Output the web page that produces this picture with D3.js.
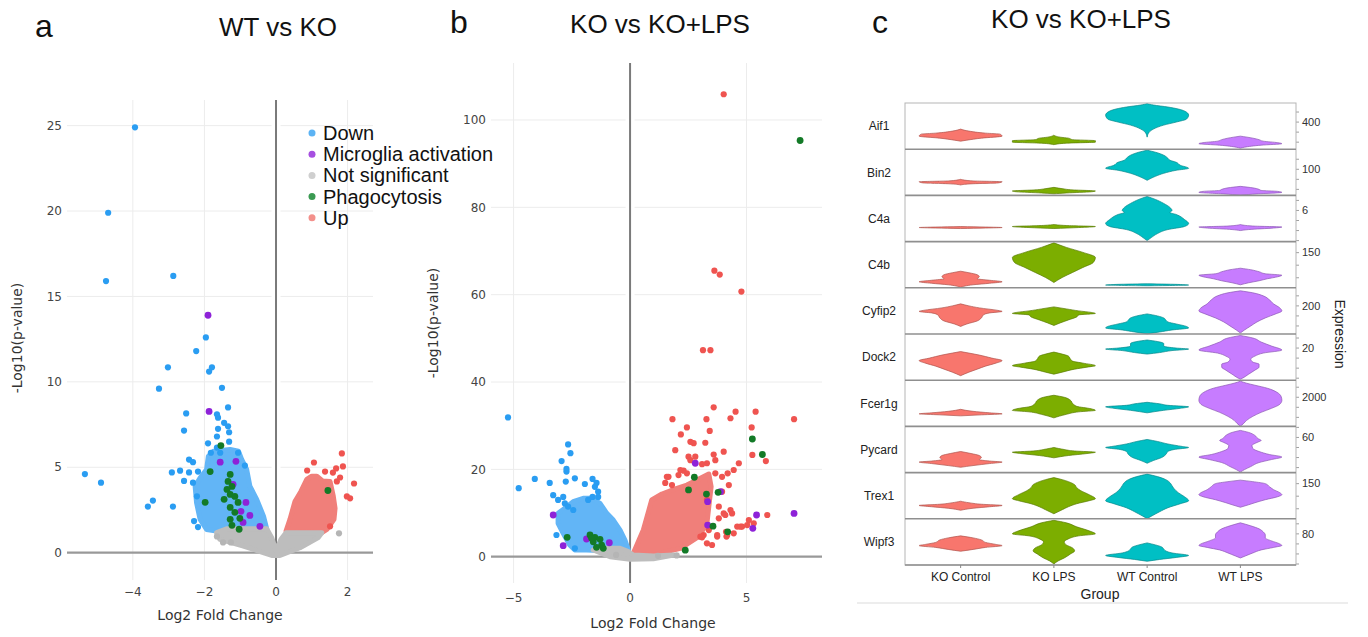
<!DOCTYPE html>
<html lang="en">
<head>
<meta charset="utf-8">
<title>Volcano plots and violin panel</title>
<script src="https://cdn.jsdelivr.net/npm/d3@7"></script>
<style>
  body { margin: 0; background: #fff; }
  .sans { font-family: "Liberation Sans", Arial, sans-serif; }
  .tick { font-family: "DejaVu Sans", Verdana, sans-serif; font-size: 12px; fill: #444; }
</style>
</head>
<body>
<svg id="fig" width="1368" height="637"></svg>
<script>
// ---- volcano data: [log2 fold change, -log10 p] ----
var categories = ["Down", "Microglia activation", "Not significant", "Phagocytosis", "Up"];
var pointColors = ["#2a9df2", "#8e22d8", "#b5b5b5", "#137a27", "#ef5450"];
var legendColors = ["#5cb3f4", "#a64fe0", "#cfcfcf", "#3b9a52", "#f3908b"];
var cloudDownColor = "#62b5f6", cloudUpColor = "#f07f7a", cloudNsColor = "#bdbdbd";

// panel a: WT vs KO
var aDown = [[-3.94,24.9],[-4.69,19.9],[-4.75,15.9],[-2.87,16.2],[-1.96,12.6],[-2.23,11.8],[-3.02,10.85],
  [-1.79,10.85],[-1.87,10.6],[-3.27,9.6],[-1.51,9.65],[-1.34,8.5],[-2.51,8.15],[-1.65,8.1],[-1.62,7.9],
  [-1.45,7.6],[-1.34,7.4],[-1.31,7.05],[-2.57,7.15],[-1.62,7.25],[-1.65,6.8],[-1.31,6.5],[-1.9,6.4],
  [-1.65,6.15],[-1.82,5.85],[-1.56,5.85],[-1.06,5.85],[-2.43,5.45],[-2.32,5.3],[-2.18,4.75],[-0.87,5.1],
  [-2.68,4.8],[-2.91,4.7],[-2.43,4.7],[-2.57,4.2],[-2.32,4.1],[-2.21,3.3],[-5.34,4.6],[-4.89,4.1],
  [-3.44,3.05],[-3.58,2.7],[-2.88,2.7],[-2.29,1.85],[-2.18,1.5]];
var aMicroglia = [[-1.9,13.9],[-1.87,8.27],[-1.56,5.3],[-1.12,5.35],[-1.2,4.0],[-0.84,2.94],[-0.98,2.42],
  [-0.73,2.18],[-0.92,1.77],[-0.45,1.54]];
var aNotSig = [[-1.65,0.95],[-1.48,0.6],[-1.26,0.6],[1.76,1.13]];
var aPhago = [[-1.54,6.27],[-1.84,4.75],[-1.98,2.95],[-1.28,4.58],[-1.34,4.17],[-1.23,3.88],[-1.37,3.7],
  [-1.28,3.41],[-1.15,3.29],[-1.45,3.12],[-1.06,2.94],[-1.28,2.65],[-1.15,2.36],[-1.28,1.95],[-1.01,2.01],
  [-1.23,1.6],[-1.03,1.37],[1.45,3.64]];
var aUp = [[1.84,5.81],[1.06,5.28],[1.37,4.75],[0.87,4.81],[1.59,4.69],[1.87,5.05],[1.68,4.93],[2.18,4.05],
  [1.98,3.29],[2.07,3.18],[1.51,1.54],[1.70,4.17],[1.79,4.4]];
// outlines of the dense point clouds (too many genes to read one by one)
var aDownCloud = [[-2.12,4.39],[-1.94,4.87],[-1.89,5.65],[-1.75,5.94],[-1.28,6.04],[-1.05,5.94],[-0.96,5.46],
  [-0.82,4.87],[-0.73,3.89],[-0.54,3.12],[-0.35,2.14],[-0.26,1.4],[-1.38,1.4],[-1.66,1.26],[-1.94,1.36],
  [-2.12,1.95],[-2.22,2.92],[-2.26,3.89]];
var aUpCloud = [[0.28,1.26],[0.39,1.95],[0.53,3.0],[0.7,3.6],[0.86,4.29],[1.0,4.48],[1.14,4.48],[1.3,4.2],
  [1.51,4.17],[1.6,3.31],[1.65,2.6],[1.62,1.95],[1.42,1.36],[1.28,1.17]];
var aNsCloud = [[-1.66,1.17],[-1.38,1.4],[-0.26,1.4],[-0.12,0.88],[0,0.1],[0.14,0.78],[0.28,1.17],[1.28,1.17],
  [1.18,0.88],[0.67,0.29],[0.11,-0.16],[-0.12,-0.16],[-0.91,0.39],[-1.57,0.78]];

// panel b: KO vs KO+LPS
var bDown = [[-5.24,31.9],[-4.78,15.7],[-4.09,17.8],[-3.45,16.9],[-2.73,20.1],[-2.76,17.2],[-2.37,17.95],
  [-1.94,16.65],[-1.61,17.8],[-2.66,25.7],[-2.56,23.7],[-2.94,21.9],[-2.73,19.5],[-1.44,16.9],[-1.37,14.9],
  [-3.3,14.1],[-3.09,13.0],[-2.87,13.7],[-2.8,12.2],[-2.66,11.45],[-2.44,10.7],[-3.16,4.97],[-2.37,1.92],
  [-1.51,16.0],[-1.61,13.7],[-1.37,13.7],[-1.8,13.0]];
var bMicroglia = [[-3.3,9.55],[-2.87,2.52],[-1.87,4.05],[-0.89,3.2],[2.8,21.4],[3.33,12.6],[5.43,9.55],
  [5.27,6.5],[7.04,9.9],[3.88,14.9],[3.33,7.25]];
var bNotSig = [[-0.6,0.4],[1.2,0.2],[2.0,0.3]];
var bPhago = [[7.3,95.3],[-2.7,4.44],[-1.72,4.97],[-1.51,4.44],[-1.29,3.98],[-1.58,3.43],[-1.22,2.67],
  [-1.44,2.15],[-1.15,1.92],[-1.65,4.21],[5.25,26.95],[5.68,23.4],[2.76,18.2],[3.28,14.35],[3.78,14.75],
  [3.56,7.0],[4.19,5.7],[2.51,15.3],[2.37,1.5]];
var bUp = [[4.02,105.9],[3.62,65.5],[3.85,64.6],[4.78,60.7],[3.13,47.3],[3.45,47.3],[1.82,31.5],[2.44,29.6],
  [2.18,28.0],[1.94,24.4],[2.59,26.3],[2.73,26.0],[3.23,26.1],[3.28,31.5],[3.42,28.8],[3.59,34.2],
  [4.31,31.7],[4.53,33.2],[5.39,33.2],[5.22,29.6],[7.04,31.5],[5.25,23.3],[5.83,21.9],[4.02,24.05],
  [3.59,23.4],[3.3,21.4],[3.09,21.2],[4.67,21.4],[4.45,19.85],[4.19,19.1],[3.95,18.3],[2.51,22.9],
  [2.3,19.7],[2.44,19.1],[1.58,18.3],[1.51,16.9],[4.02,9.9],[4.38,9.9],[5.1,8.4],[4.81,6.9],[4.6,6.9],
  [4.12,5.7],[3.74,4.6],[4.14,4.6],[5.89,9.55],[3.52,2.68],[3.16,4.97],[3.09,4.44],[3.95,14.9],[4.24,16.4],
  [4.31,10.7],[3.66,22.1],[3.66,19.1],[2.59,22.1],[2.8,22.9],[2.16,19.85],[2.08,18.7],[1.65,18.3],
  [1.8,16.4],[3.3,13],[3.81,11.45],[4.09,9.55],[3.81,8.8],[5.31,7.65],[5.03,7.25],[4.74,6.87],[4.45,5.36],
  [4.17,4.97],[3.74,4.97],[3.38,6.11],[3.02,4.58],[3.3,3.06]];
var bDownCloud = [[-3.09,9.94],[-2.8,11.08],[-2.44,12.6],[-2.01,13.37],[-1.65,13.37],[-1.29,12.23],[-1.0,9.94],
  [-0.72,8.4],[-0.43,6.11],[-0.22,3.82],[-0.07,1.53],[-1.0,1.37],[-1.87,1.53],[-2.37,1.53],[-2.59,2.68],
  [-2.87,5.36],[-3.09,7.65]];
var bUpCloud = [[0.14,0.78],[0.57,6.11],[0.93,12.98],[1.37,14.36],[2.01,15.66],[2.44,16.42],[3.02,17.95],
  [3.38,18.94],[3.48,16.03],[3.38,11.45],[3.3,7.65],[2.94,4.58],[2.16,1.92],[1.0,0.38]];
var bNsCloud = [[-1.58,1.53],[-1.0,1.92],[-0.43,1.92],[-0.07,1.15],[0.14,0.38],[1.0,0.16],[1.87,0.38],
  [1.0,-0.46],[0,-0.6],[-0.86,0]];

// ---- violin data: per gene, one profile per group, [expression, relative density] ----
var genes = ["Aif1", "Bin2", "C4a", "C4b", "Cyfip2", "Dock2", "Fcer1g", "Pycard", "Trex1", "Wipf3"];
var groups = ["KO Control", "KO LPS", "WT Control", "WT LPS"];
var groupColors = ["#f8766d", "#7cae00", "#00bfc4", "#c77cff"];
var geneTicks = [400, 100, 6, 150, 200, 20, 2000, 60, 150, 80];
var geneDomains = [[130,590],[35,150],[2.9,7.5],[10,194],[60,290],[4,27],[550,2850],[25,71],[80,172],[49,95]];
var minorSteps = [100, 25, 1, 50, 50, 5, 500, 10, 25, 10];

var vAif1 = [
  [[330,0],[310,0.2],[290,0.6],[280,0.95],[260,1],[240,0.5],[220,0.15],[210,0]],
  [[270,0],[250,0.15],[240,0.35],[225,0.45],[215,1],[200,1],[190,0.3],[175,0]],
  [[585,0],[570,0.15],[550,0.5],[510,0.9],[470,1],[430,0.95],[400,0.7],[370,0.4],[330,0.15],[300,0.05],[250,0]],
  [[260,0],[240,0.3],[225,0.45],[210,0.55],[195,0.9],[185,1],[170,0.5],[150,0.1],[140,0]]];
var vBin2 = [
  [[75,0],[71,0.3],[69,1],[66,0.9],[64,0.3],[61,0]],
  [[55,0],[51,0.25],[49,0.4],[46,1],[44,0.9],[41,0.3],[39,0]],
  [[147.5,0],[142.5,0.2],[135,0.4],[127.5,0.5],[122.5,0.55],[117.5,0.7],[110,0.8],[102.5,1],[97.5,0.7],[90,0.4],[82.5,0.2],[72.5,0]],
  [[57.5,0],[53.75,0.3],[50,0.45],[47.5,0.5],[45,0.9],[42.5,1],[38.75,0.4],[35.5,0]]];
var vC4a = [
  [[4.4,0],[4.35,0.6],[4.3,1],[4.25,0.6],[4.2,0]],
  [[4.6,0],[4.5,0.3],[4.4,1],[4.3,0.6],[4.2,0]],
  [[7.4,0],[7.1,0.2],[6.7,0.4],[6.3,0.55],[6.0,0.6],[5.8,0.55],[5.6,0.7],[5.1,0.9],[4.7,1],[4.4,0.9],[4.1,0.5],[3.7,0.25],[3.3,0.1],[3.0,0]],
  [[4.6,0],[4.45,0.3],[4.35,1],[4.25,0.8],[4.1,0.2],[4.0,0]]];
var vC4b = [
  [[76,0],[70,0.2],[62,0.4],[54,0.45],[46,0.4],[40,0.7],[34,1],[28,0.7],[22,0.3],[12,0]],
  [[189,0],[171,0.3],[151,0.7],[131,1],[111,0.95],[91,0.7],[71,0.45],[51,0.2],[31,0]],
  [[26,0],[23.2,0.8],[20.8,1],[18,0]],
  [[88,0],[82,0.25],[74,0.45],[66,0.6],[60,1],[54,0.9],[46,0.65],[38,0.45],[30,0.2],[22,0]]];
var vCyfip2 = [
  [[210,0],[200,0.2],[190,0.45],[177.5,0.9],[172.5,1],[165,0.7],[155,0.55],[140,0.5],[125,0.4],[110,0.15],[97.5,0]],
  [[195,0],[185,0.3],[175,0.6],[167.5,0.9],[162.5,1],[155,0.6],[145,0.55],[130,0.35],[115,0.15],[102.5,0]],
  [[160,0],[150,0.25],[140,0.4],[130,0.45],[120,0.5],[110,0.7],[97.5,0.95],[90,1],[80,0.6],[70,0.3],[61,0]],
  [[275,0],[265,0.3],[250,0.55],[230,0.7],[210,0.8],[190,0.95],[175,1],[160,0.85],[140,0.6],[120,0.4],[100,0.25],[80,0.1],[65,0]]];
var vDock2 = [
  [[18.25,0],[17.5,0.2],[16.5,0.45],[15,0.75],[13.75,1],[12.5,0.85],[11,0.6],[9.5,0.4],[8,0.2],[6.25,0]],
  [[18,0],[17,0.2],[16,0.35],[14.5,0.4],[13.5,0.45],[12.5,0.7],[11.25,1],[10.5,0.8],[9.5,0.5],[8,0.2],[7,0]],
  [[24,0],[23.25,0.25],[22.25,0.4],[21,0.4],[20,0.7],[19.5,1],[18.75,0.6],[17.75,0.3],[17,0]],
  [[26.25,0],[25,0.3],[23,0.5],[21,0.75],[19,1],[17.5,0.55],[16,0.35],[14.5,0.25],[13,0.3],[12,0.45],[10.5,0.45],[9,0.35],[7,0.2],[5,0.05],[4.5,0]]];
var vFcer1g = [
  [[1400,0],[1300,0.3],[1225,0.7],[1175,1],[1125,0.5],[1075,0]],
  [[2100,0],[2000,0.25],[1850,0.4],[1700,0.45],[1550,0.55],[1425,0.9],[1350,1],[1275,0.6],[1150,0.3],[975,0]],
  [[1750,0],[1675,0.3],[1600,0.5],[1525,1],[1450,0.8],[1350,0.4],[1225,0]],
  [[2800,0],[2700,0.15],[2600,0.35],[2450,0.65],[2250,0.88],[2050,0.98],[1850,1],[1650,0.95],[1450,0.75],[1250,0.5],[1050,0.3],[850,0.15],[700,0.08],[560,0]]];
var vPycard = [
  [[46,0],[44,0.25],[42,0.45],[40,0.5],[38,0.45],[36.5,0.7],[35.5,1],[34,0.7],[32,0.3],[30.3,0]],
  [[50,0],[48,0.25],[46.5,0.5],[45.3,1],[44,0.8],[42,0.35],[39.7,0]],
  [[58,0],[56,0.25],[53.5,0.5],[51,0.85],[50,1],[48,0.65],[46,0.5],[43,0.45],[40,0.35],[37,0.15],[34.3,0]],
  [[67,0],[65,0.2],[62,0.35],[59,0.42],[57,0.5],[55,0.4],[52,0.28],[49,0.3],[46,0.45],[43,0.7],[40.5,1],[38,0.75],[35,0.45],[31,0.25],[28,0.1],[25.5,0]]];
var vTrex1 = [
  [[115,0],[112,0.2],[109,0.5],[106.6,1],[104,0.7],[101,0.3],[97,0]],
  [[162,0],[158,0.2],[154,0.35],[148,0.5],[142,0.55],[136,0.65],[128,0.85],[120,1],[116,0.85],[110,0.55],[104,0.35],[98,0.2],[90,0]],
  [[169,0],[164,0.25],[158,0.45],[152,0.55],[146,0.6],[140,0.65],[132,0.75],[124,0.9],[116,1],[110,0.8],[102,0.5],[94,0.3],[86,0.12],[80.5,0]],
  [[157,0],[154,0.3],[150,0.6],[144,0.7],[138,0.8],[132,0.95],[128,1],[124,0.9],[118,0.6],[112,0.35],[108,0.2],[103,0]]];
var vWipf3 = [
  [[78,0],[76,0.3],[74,0.5],[71.5,0.6],[69.5,0.85],[68.3,1],[66.5,0.6],[64.5,0.3],[62.7,0]],
  [[93.5,0],[91,0.3],[87,0.55],[83,0.85],[80,1],[78,0.6],[75,0.35],[72,0.25],[69,0.3],[66,0.45],[63,0.5],[60,0.4],[56,0.25],[53,0.1],[50,0]],
  [[71,0],[69,0.2],[67,0.35],[65,0.4],[63,0.45],[61,0.6],[58.5,1],[56.5,0.7],[54.5,0.3],[52.7,0]],
  [[91,0],[88,0.25],[85,0.45],[82,0.55],[79,0.6],[76,0.6],[73,0.75],[70,0.95],[68.5,1],[66.5,0.8],[64,0.5],[61,0.3],[58,0.12],[56,0]]];
var violinData = [vAif1, vBin2, vC4a, vC4b, vCyfip2, vDock2, vFcer1g, vPycard, vTrex1, vWipf3];

var svg = d3.select("#fig");

// ---------- volcano panel ----------
function drawVolcano(p) {
  var g = svg.append("g");
  var x = d3.scaleLinear().domain(p.xDomain).range([p.left, p.right]);
  var y = d3.scaleLinear().domain(p.yDomain).range([p.bottom, p.top]);

  // grid
  g.selectAll("line.vg").data(p.xTicks.filter(function (d) { return d !== 0; }))
    .enter().append("line")
    .attr("x1", x).attr("x2", x).attr("y1", p.top).attr("y2", p.bottom)
    .attr("stroke", "#ececec");
  g.selectAll("line.hg").data(p.yTicks.filter(function (d) { return d !== 0; }))
    .enter().append("line")
    .attr("x1", p.left).attr("x2", p.right).attr("y1", y).attr("y2", y)
    .attr("stroke", "#ececec");
  // white gap around the zero line, then the zero lines
  g.append("line").attr("x1", x(0)).attr("x2", x(0)).attr("y1", p.top).attr("y2", p.bottom)
    .attr("stroke", "#fff").attr("stroke-width", 9);
  g.append("line").attr("x1", p.left).attr("x2", p.right).attr("y1", y(0)).attr("y2", y(0))
    .attr("stroke", "#999").attr("stroke-width", 2.2);
  g.append("line").attr("x1", x(0)).attr("x2", x(0)).attr("y1", p.top).attr("y2", p.bottom)
    .attr("stroke", "#7a7a7a").attr("stroke-width", 2);

  // tick labels
  var fmt = d3.format("d");
  g.selectAll("text.yt").data(p.yTicks).enter().append("text").attr("class", "tick")
    .attr("x", p.left - 5).attr("y", y).attr("dy", "0.35em").attr("text-anchor", "end")
    .text(fmt);
  g.selectAll("text.xt").data(p.xTicks).enter().append("text").attr("class", "tick")
    .attr("x", x).attr("y", p.xLabelY).attr("dy", "0.35em").attr("text-anchor", "middle")
    .text(fmt);

  // axis titles
  g.append("text").attr("class", "tick").style("font-size", "14px").style("fill", "#333")
    .attr("x", p.xTitleX).attr("y", p.xTitleY).attr("text-anchor", "middle")
    .text("Log2 Fold Change");
  g.append("text").attr("class", "tick").style("font-size", "14px").style("fill", "#333")
    .attr("transform", "translate(" + p.yTitleX + "," + p.yTitleY + ") rotate(-90)")
    .attr("text-anchor", "middle").text("-Log10(p-value)");

  // dense clouds
  var cloud = d3.line().x(function (d) { return x(d[0]); }).y(function (d) { return y(d[1]); })
    .curve(d3.curveLinearClosed);
  [[p.downCloud, cloudDownColor], [p.upCloud, cloudUpColor], [p.nsCloud, cloudNsColor]].forEach(function (c) {
    g.append("path").attr("d", cloud(c[0])).attr("fill", c[1])
      .attr("stroke", c[1]).attr("stroke-width", 5).attr("stroke-linejoin", "round");
  });

  // single points, drawn in this order so the gene sets land on top
  var order = [[p.down, 0], [p.up, 4], [p.ns, 2], [p.micro, 1], [p.phago, 3]];
  order.forEach(function (o) {
    g.selectAll(null).data(o[0]).enter().append("circle")
      .attr("cx", function (d) { return x(d[0]); })
      .attr("cy", function (d) { return y(d[1]); })
      .attr("r", o[1] === 1 || o[1] === 3 ? 3.4 : 3.1)
      .attr("fill", pointColors[o[1]]);
  });
  return g;
}

drawVolcano({
  left: 67, right: 373, top: 100, bottom: 580,
  xDomain: [-5.84, 2.71], yDomain: [-1.6, 26.5],
  xTicks: [-4, -2, 0, 2], yTicks: [0, 5, 10, 15, 20, 25],
  xLabelY: 592, xTitleX: 220, xTitleY: 620, yTitleX: 22, yTitleY: 338,
  down: aDown, micro: aMicroglia, ns: aNotSig, phago: aPhago, up: aUp,
  downCloud: aDownCloud, upCloud: aUpCloud, nsCloud: aNsCloud
});
drawVolcano({
  left: 491, right: 822, top: 63, bottom: 583,
  xDomain: [-5.97, 8.24], yDomain: [-6.02, 113.05],
  xTicks: [-5, 0, 5], yTicks: [0, 20, 40, 60, 80, 100],
  xLabelY: 598, xTitleX: 653, xTitleY: 628, yTitleX: 438, yTitleY: 323,
  down: bDown, micro: bMicroglia, ns: bNotSig, phago: bPhago, up: bUp,
  downCloud: bDownCloud, upCloud: bUpCloud, nsCloud: bNsCloud
});

// legend of panel a
var legend = svg.append("g").attr("transform", "translate(312,133)");
categories.forEach(function (c, i) {
  legend.append("circle").attr("cx", 0).attr("cy", i * 21.2).attr("r", 3.5).attr("fill", legendColors[i]);
  legend.append("text").attr("class", "sans").attr("x", 11).attr("y", i * 21.2).attr("dy", "0.35em")
    .style("font-size", "20px").attr("fill", "#111").text(c);
});

// panel letters and titles
var heads = [["a", 35, 37, "start"], ["b", 450, 33, "start"], ["c", 872, 33, "start"]];
heads.forEach(function (h) {
  svg.append("text").attr("class", "sans").attr("x", h[1]).attr("y", h[2]).attr("text-anchor", h[3])
    .style("font-size", "32px").attr("fill", "#111").text(h[0]);
});
var titles = [["WT vs KO", 278, 36], ["KO vs KO+LPS", 660, 33], ["KO vs KO+LPS", 1081, 28]];
titles.forEach(function (t) {
  svg.append("text").attr("class", "sans").attr("x", t[1]).attr("y", t[2]).attr("text-anchor", "middle")
    .style("font-size", "26px").attr("fill", "#111").text(t[0]);
});

// ---------- violin panel ----------
var vc = { left: 905, right: 1296, top: 103, bottom: 565 };
var vg = svg.append("g");
var rowBand = d3.scaleBand().domain(genes).range([vc.top, vc.bottom]);
var xGroup = d3.scalePoint().domain(groups).range([914, 1287]).padding(0.5);
var halfW = d3.scaleLinear().domain([0, 1]).range([0, 41.5]);

vg.append("line").attr("x1", 857).attr("x2", 1348).attr("y1", 603).attr("y2", 603)
  .attr("stroke", "#ededed").attr("stroke-width", 2);

genes.forEach(function (gene, gi) {
  var top = rowBand(gene), bot = top + rowBand.bandwidth();
  var yG = d3.scaleLinear().domain(geneDomains[gi]).range([bot, top]);

  violinData[gi].forEach(function (knots, k) {
    var cx = xGroup(groups[k]);
    var area = d3.area().curve(d3.curveMonotoneY)
      .y(function (d) { return yG(d[0]); })
      .x0(function (d) { return cx - halfW(d[1]); })
      .x1(function (d) { return cx + halfW(d[1]); });
    vg.append("path").attr("d", area(knots))
      .attr("fill", groupColors[k])
      .attr("stroke", d3.color(groupColors[k]).darker(1))
      .attr("stroke-width", 0.7);
  });

  // right axis ticks
  var lo = geneDomains[gi][0], hi = geneDomains[gi][1], st = minorSteps[gi];
  var minor = d3.range(Math.ceil(lo / st) * st, hi, st);
  vg.selectAll(null).data(minor).enter().append("line")
    .attr("x1", vc.right).attr("x2", vc.right + 3)
    .attr("y1", yG).attr("y2", yG).attr("stroke", "#888").attr("stroke-width", 0.8);
  vg.append("text").attr("class", "sans").attr("x", vc.right + 6).attr("y", yG(geneTicks[gi]))
    .attr("dy", "0.35em").style("font-size", "11px").attr("fill", "#333").text(geneTicks[gi]);

  // strip label
  vg.append("text").attr("class", "sans").attr("x", 879).attr("y", (top + bot) / 2)
    .attr("dy", "0.35em").attr("text-anchor", "middle").style("font-size", "12px")
    .attr("fill", "#222").text(gene);
});

// frame and row separators
vg.append("rect").attr("x", vc.left).attr("y", vc.top)
  .attr("width", vc.right - vc.left).attr("height", vc.bottom - vc.top)
  .attr("fill", "none").attr("stroke", "#b5b5b5").attr("stroke-width", 1);
vg.selectAll(null).data(genes.slice(1)).enter().append("line")
  .attr("x1", vc.left).attr("x2", vc.right)
  .attr("y1", function (d) { return rowBand(d); }).attr("y2", function (d) { return rowBand(d); })
  .attr("stroke", "#8f8f8f").attr("stroke-width", 1.6);
vg.append("line").attr("x1", vc.left).attr("x2", vc.right).attr("y1", vc.bottom).attr("y2", vc.bottom)
  .attr("stroke", "#8f8f8f").attr("stroke-width", 1.4);

// group axis
vg.selectAll(null).data(groups).enter().append("line")
  .attr("x1", xGroup).attr("x2", xGroup).attr("y1", vc.bottom).attr("y2", vc.bottom + 3)
  .attr("stroke", "#888");
vg.selectAll(null).data(groups).enter().append("text").attr("class", "sans")
  .attr("x", xGroup).attr("y", 577).attr("dy", "0.35em").attr("text-anchor", "middle")
  .style("font-size", "12px").attr("fill", "#222").text(function (d) { return d; });
vg.append("text").attr("class", "sans").attr("x", 1100).attr("y", 594).attr("dy", "0.35em")
  .attr("text-anchor", "middle").style("font-size", "14px").attr("fill", "#222").text("Group");
vg.append("text").attr("class", "sans")
  .attr("transform", "translate(1340,334) rotate(90)").attr("text-anchor", "middle")
  .attr("dy", "0.35em").style("font-size", "14px").attr("fill", "#222").text("Expression");
</script>
</body>
</html>
